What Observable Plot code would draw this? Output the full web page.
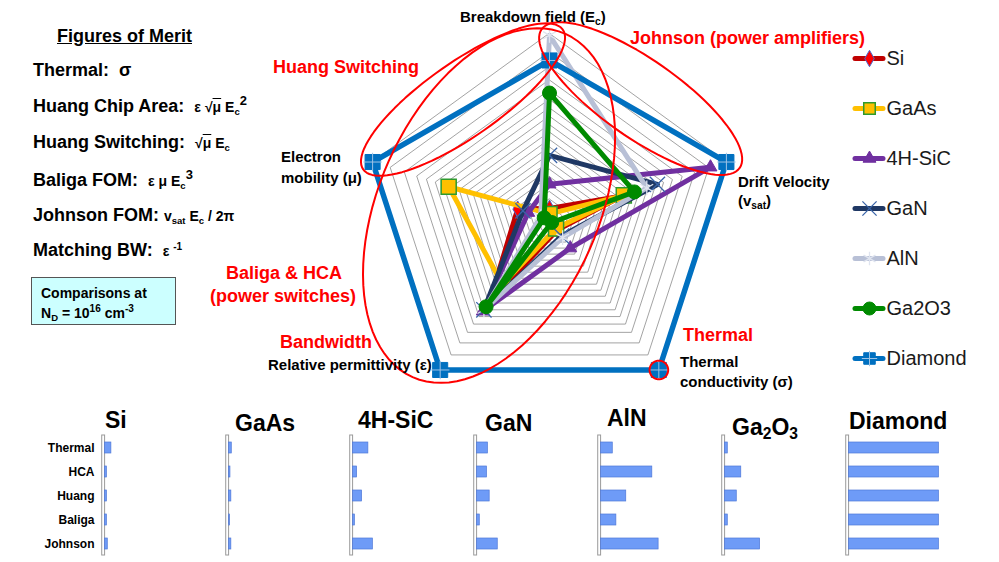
<!DOCTYPE html>
<html><head><meta charset="utf-8">
<script src="https://cdn.jsdelivr.net/npm/d3@7"></script>
<script src="https://cdn.jsdelivr.net/npm/@observablehq/plot@0.6"></script>
<style>
body{margin:0;background:#fff;}
#page{position:relative;width:999px;height:562px;overflow:hidden;font-family:"Liberation Sans",Arial,sans-serif;color:#000;background:#fff;}
.t{position:absolute;white-space:nowrap;transform:translateY(-50%);line-height:1;font-weight:bold;}
.red{color:#ff0000;font-size:18px;}
.ax{font-size:15px;}
.fom{font-size:18px;}
.f{font-size:14px;}
.ttl{font-size:23px;}
.ul{text-decoration:underline;}
sub{font-size:0.68em;vertical-align:-0.3em;line-height:0;}
sup{font-size:0.72em;vertical-align:0.55em;line-height:0;}
.ov{text-decoration:overline;}
.plot{position:absolute;}
</style></head><body><div id="page"></div>
<script>
// ---------- data ----------
const radarAxes = ["Breakdown field (Ec)", "Drift Velocity (vsat)", "Thermal conductivity (σ)", "Relative permittivity (ε)", "Electron mobility (μ)"];
const materials = ["Si", "GaAs", "4H-SiC", "GaN", "AlN", "Ga2O3", "Diamond"];
// normalized values, in radarAxes order
const radarSi      = [0.06, 0.41, 0.07, 0.55, 0.18];
const radarGaAs    = [0.03, 0.42, 0.06, 0.43, 0.57];
const radarSiC     = [0.19, 0.91, 0.19, 0.61, 0.12];
const radarGaN     = [0.345, 0.61, 0.11, 0.60, 0.15];
const radarAlN     = [0.99, 0.55, 0.12, 0.60, 0.05];
const radarGa2O3   = [0.68, 0.48, 0.02, 0.58, 0.03];
const radarDiamond = [0.855, 1.00, 1.00, 1.00, 1.00];
const radarValues = [radarSi, radarGaAs, radarSiC, radarGaN, radarAlN, radarGa2O3, radarDiamond];
// radial grid rings
const gridLevels = [0.07, 0.11, 0.15, 0.19, 0.23, 0.27, 0.31, 0.35, 0.39, 0.43, 0.47, 0.51, 0.555, 0.60, 0.645, 0.695, 0.75, 0.82, 0.90, 1.0];

const fomCategories = ["Thermal", "HCA", "Huang", "Baliga", "Johnson"];
const fomSi      = [7, 2, 2, 2, 3];
const fomGaAs    = [3, 1.5, 2.5, 1, 2.5];
const fomSiC     = [17, 4.5, 10, 2, 22];
const fomGaN     = [12, 11, 14, 3, 23];
const fomAlN     = [13, 57, 28, 17, 64];
const fomGa2O3   = [3, 18, 13, 3, 39];
const fomDiamond = [100, 100, 100, 100, 100];
const fomValues = [fomSi, fomGaAs, fomSiC, fomGaN, fomAlN, fomGa2O3, fomDiamond];

// ---------- styles ----------
const lineColors = ["#c00000", "#ffc000", "#7030a0", "#1f3864", "#b8c0d6", "#008a00", "#0070c0"];
const lineWidths = [5, 5, 5, 5, 5, 5, 5.5];
const markerStyles = [
  {symbol: "diamond", fill: "#ff0000", stroke: "#4a6ad0", r: 5, strokeWidth: 1},
  {symbol: "square", fill: "#ffc000", stroke: "#2e9a2e", r: 8.5, strokeWidth: 1.5},
  {symbol: "triangle", fill: "#7030a0", stroke: "#7030a0", r: 4.8, strokeWidth: 1},
  {symbol: "times", fill: "none", stroke: "#3a64a8", r: 7, strokeWidth: 1.3},
  {symbol: "asterisk", fill: "none", stroke: "#dfe4ef", r: 7, strokeWidth: 1.3},
  {symbol: "circle", fill: "#008a00", stroke: "#008a00", r: 7, strokeWidth: 1},
  {symbol: "square", fill: "#0070c0", stroke: "#0070c0", r: 8.5, strokeWidth: 1}
];
// hand-drawn red annotation ellipses (radar units)
const ellipseSpecs = [
  {name: "Huang Switching", cx: -0.465, cy: 0.645, a: 0.655, b: 0.2, deg: 35},
  {name: "Johnson", cx: 0.49, cy: 0.65, a: 0.65, b: 0.21, deg: -35},
  {name: "Baliga & HCA", cx: -0.325, cy: 0.075, a: 1.01, b: 0.59, deg: 66},
  {name: "Thermal", cx: 0.588, cy: -0.809, a: 0.05, b: 0.05, deg: 0}
];

const page = document.getElementById("page");
function place(node, left, top) {
  const w = document.createElement("div");
  w.className = "plot"; w.style.left = left + "px"; w.style.top = top + "px";
  w.appendChild(node); page.appendChild(w);
}
function label(html, left, cy, cls) {
  const d = document.createElement("div");
  d.className = "t " + cls; d.style.left = left + "px"; d.style.top = cy + "px";
  d.innerHTML = html; page.appendChild(d);
  return d;
}

// ---------- radar ----------
const R = 186, RW = 600, RH = 420, CX = 548.5, CY = 219;
const angle = k => k * 2 * Math.PI / radarAxes.length;
const polar = (v, k) => [v * Math.sin(angle(k)), v * Math.cos(angle(k))];
const ringPts = gridLevels.flatMap(l => radarAxes.map((_, k) => ({ring: l, x: polar(l, k)[0], y: polar(l, k)[1]})));
const seriesPts = materials.map((m, i) => radarValues[i].map((v, k) => ({material: m, axis: radarAxes[k], value: v, x: polar(v, k)[0], y: polar(v, k)[1]})));
const ellPts = ellipseSpecs.flatMap(e => {
  const p = e.deg * Math.PI / 180;
  return d3.range(0, 96).map(j => {
    const t = j / 96 * 2 * Math.PI;
    return {name: e.name,
      x: e.cx + e.a * Math.cos(t) * Math.cos(p) - e.b * Math.sin(t) * Math.sin(p),
      y: e.cy + e.a * Math.cos(t) * Math.sin(p) + e.b * Math.sin(t) * Math.cos(p)};
  });
});

const radarMarks = [
  Plot.line(ringPts, {x: "x", y: "y", z: "ring", curve: "linear-closed", stroke: "#8c8c8c", strokeWidth: 0.8})
];
materials.forEach((m, i) => {
  radarMarks.push(Plot.line(seriesPts[i], {x: "x", y: "y", curve: "linear-closed", stroke: lineColors[i], strokeWidth: lineWidths[i], strokeLinejoin: "round"}));
  radarMarks.push(Plot.dot(seriesPts[i], {x: "x", y: "y", ...markerStyles[i]}));
  if (m === "Diamond") radarMarks.push(Plot.dot(seriesPts[i], {x: "x", y: "y", symbol: "plus", stroke: "#9dc3e6", r: 6, strokeWidth: 1}));
});
radarMarks.push(Plot.line(ellPts, {x: "x", y: "y", z: "name", curve: "linear-closed", stroke: "#ff0000", strokeWidth: 2}));

const radar = Plot.plot({
  width: RW, height: RH, margin: 0,
  x: {domain: [-RW / 2 / R, RW / 2 / R], axis: null},
  y: {domain: [-RH / 2 / R, RH / 2 / R], axis: null},
  style: {background: "transparent", overflow: "visible"},
  marks: radarMarks
});
place(radar, CX - RW / 2, CY - RH / 2);

// ---------- legend ----------
const legendMarks = [];
materials.forEach((m, i) => {
  legendMarks.push(Plot.ruleY([m], {y: d => d, x1: 3, x2: 31, stroke: lineColors[i], strokeWidth: 5, strokeLinecap: "round"}));
  legendMarks.push(Plot.dot([m], {y: d => d, x: 17, ...markerStyles[i], r: Math.min(markerStyles[i].r, 6.5)}));
  if (m === "Diamond") legendMarks.push(Plot.dot([m], {y: d => d, x: 17, symbol: "plus", stroke: "#9dc3e6", r: 5, strokeWidth: 1}));
});
legendMarks.push(Plot.text(materials, {y: d => d, x: 34, text: d => d, textAnchor: "start", fontSize: 20, fill: "#1a1a1a", fontFamily: "Liberation Sans, Arial, sans-serif"}));
const legend = Plot.plot({
  width: 147, height: 345, margin: 0,
  x: {domain: [0, 147], axis: null},
  y: {type: "point", domain: materials, range: [27, 329], padding: 0, axis: null},
  style: {background: "transparent", overflow: "visible"},
  marks: legendMarks
});
place(legend, 852, 30);

// ---------- small bar charts ----------
const fomRows = materials.flatMap((m, i) => fomCategories.map((c, j) => ({material: m, cat: c, value: fomValues[i][j]})));
const step = 124.2, mL = 100.4;
const bars = Plot.plot({
  width: 999, height: 130, marginLeft: mL, marginRight: 999 - mL - 7 * step, marginTop: 5, marginBottom: 5,
  facet: {data: fomRows, x: "material"},
  fx: {domain: materials, padding: 0, axis: null},
  x: {domain: [-4, 134], axis: null},
  y: {domain: fomCategories, paddingInner: 0.56, paddingOuter: 0.28, label: null, tickSize: 0, tickPadding: 7},
  style: {background: "transparent", overflow: "visible", fontFamily: "Liberation Sans, Arial, sans-serif", fontSize: "12px", fontWeight: "bold", color: "#000"},
  marks: [
    Plot.rect([0], {x1: -3.2, x2: 0, fill: "#fff", stroke: "#9a9a9a", strokeWidth: 1}),
    Plot.barX(fomRows, {x1: 0, x2: "value", y: "cat", fill: "#6e9bf7", stroke: "#4f78d8", strokeWidth: 0.7})
  ]
});
place(bars, 0, 430);

// ---------- texts ----------
label("Figures of Merit", 57, 36, "fom ul");
label("Thermal:&nbsp; σ", 33, 70, "fom");
label("Huang Chip Area:&nbsp; <span class='f'>ε √<span class='ov'>μ</span> E<sub>c</sub></span><sup>2</sup>", 33, 106, "fom");
label("Huang Switching:&nbsp; <span class='f'>√<span class='ov'>μ</span> E<sub>c</sub></span>", 33, 142, "fom");
label("Baliga FOM:&nbsp; <span class='f'>ε μ E<sub>c</sub></span><sup>3</sup>", 33, 180, "fom");
label("Johnson FOM: <span class='f'>v<sub>sat</sub> E<sub>c</sub> / 2π</span>", 33, 215, "fom");
label("Matching BW:&nbsp; <span class='f'>ε <sup>-1</sup></span>", 33, 250, "fom");

const box = document.createElement("div");
box.style.cssText = "position:absolute;left:31px;top:277px;width:143px;height:46px;background:#ccffff;border:1.5px solid #555;";
page.appendChild(box);
label("Comparisons at", 41, 293, "f");
label("N<sub>D</sub> = 10<sup>16</sup> cm<sup>-3</sup>", 41, 313, "f");

label("Breakdown field (E<sub>c</sub>)", 460, 16, "ax");
label("Electron", 281, 156, "ax");
label("mobility (μ)", 281, 177, "ax");
label("Drift Velocity", 738, 181, "ax");
label("(v<sub>sat</sub>)", 738, 200, "ax");
label("Thermal", 680, 361, "ax");
label("conductivity (σ)", 680, 381, "ax");
label("Relative permittivity (ε)", 268, 364, "ax");

label("Huang Switching", 273, 67, "red");
label("Johnson (power amplifiers)", 630, 38, "red");
label("Baliga &amp; HCA", 226, 273, "red");
label("(power switches)", 210, 296, "red");
label("Bandwidth", 280, 342, "red");
label("Thermal", 683, 335, "red");

const titleLeft = [105, 235, 358, 485, 607, 732, 849];
const titleY = [420, 423, 420, 423, 418, 427, 421];
const titleHtml = ["Si", "GaAs", "4H-SiC", "GaN", "AlN", "Ga<sub>2</sub>O<sub>3</sub>", "Diamond"];
titleHtml.forEach((h, i) => label(h, titleLeft[i], titleY[i], "ttl"));
</script>
</body></html>
